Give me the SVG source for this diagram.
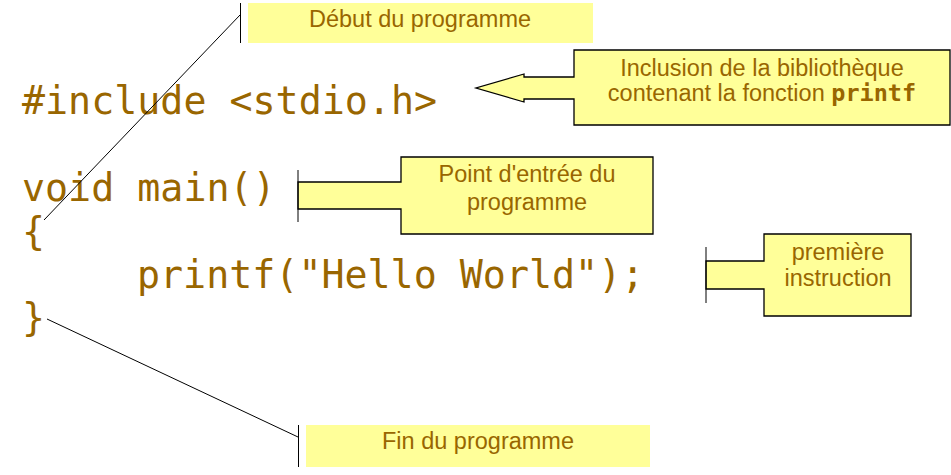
<svg xmlns="http://www.w3.org/2000/svg" width="951" height="475" viewBox="0 0 951 475">
<style>
.code{font-family:"DejaVu Sans Mono","Liberation Mono",monospace;font-size:38.3px;fill:#996600}
.lbl{font-family:"Liberation Sans",Arial,sans-serif;font-size:23.5px;fill:#996600;text-anchor:middle}
.mono{font-family:"DejaVu Sans Mono","Liberation Mono",monospace;font-weight:bold}
.box{fill:#ffff99;stroke:#000;stroke-width:1.3}
.band{fill:#ffff99}
.ln{stroke:#000;stroke-width:1;fill:none}
</style>
<rect width="951" height="475" fill="#fff"/>
<g id="code">
<text class="code" x="22" y="114">#include &lt;stdio.h&gt;</text>
<text class="code" x="22" y="201">void main()</text>
<text class="code" x="22" y="245">{</text>
<text class="code" x="137" y="288">printf("Hello World");</text>
<text class="code" x="22" y="331">}</text>
</g>
<g id="debut">
<rect class="band" x="248" y="3" width="345" height="40"/>
<text class="lbl" x="420" y="27">Début du programme</text>
</g>
<g id="inclusion">
<polygon class="box" points="574,50 950,50 950,125 574,125 574,99 524,99 524,102 476,88 524,74 524,77 574,77"/>
<text class="lbl" x="762" y="76">Inclusion de la bibliothèque</text>
<text class="lbl" x="762" y="101">contenant la fonction <tspan class="mono">printf</tspan></text>
</g>
<g id="entree">
<polygon class="box" points="401,157 653,157 653,234 401,234 401,209 298,209 298,182 401,182"/>
<line class="ln" x1="298" y1="170" x2="298" y2="222"/>
<text class="lbl" x="527" y="182">Point d'entrée du</text>
<text class="lbl" x="527" y="210">programme</text>
</g>
<g id="instruction">
<polygon class="box" points="764,234 911,234 911,316 764,316 764,289 706,289 706,261 764,261"/>
<line class="ln" x1="706" y1="247" x2="706" y2="303"/>
<text class="lbl" x="838" y="260">première</text>
<text class="lbl" x="838" y="286">instruction</text>
</g>
<g id="fin">
<rect class="band" x="306" y="425" width="344" height="42"/>
<text class="lbl" x="478" y="449">Fin du programme</text>
</g>
<g id="connectors">
<line class="ln" x1="240.5" y1="3" x2="240.5" y2="43"/>
<line class="ln" x1="44" y1="220" x2="240" y2="15"/>
<line class="ln" x1="298.5" y1="425" x2="298.5" y2="467"/>
<line class="ln" x1="47" y1="319" x2="298" y2="437"/>
</g>
</svg>
